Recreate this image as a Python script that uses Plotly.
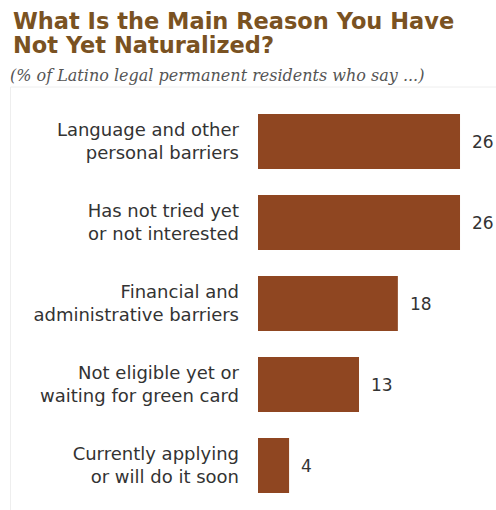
import plotly.graph_objects as go

categories = [
    "Language and other<br>personal barriers",
    "Has not tried yet<br>or not interested",
    "Financial and<br>administrative barriers",
    "Not eligible yet or<br>waiting for green card",
    "Currently applying<br>or will do it soon",
]
values = [26, 26, 18, 13, 4]
title_lines = ["What Is the Main Reason You Have", "Not Yet Naturalized?"]
subtitle = "(% of Latino legal permanent residents who say ...)"

W, H = 496, 510
L, R, T, B = 258, 6, 101, 4
PW, PH = W - L - R, H - T - B
xmax = PW / 7.77
PITCH = 81.0
ytop = -0.5
ybot = ytop + PH / PITCH


def px(x):
    return (x - L) / PW


def py(y):
    return 1 - (y - T) / PH


BAR = "#8f4621"
fig = go.Figure()
fig.add_trace(go.Bar(
    x=values, y=categories, orientation="h",
    marker=dict(color=BAR, line=dict(width=0)),
    width=0.68, hoverinfo="skip",
))

ann = []
for c, v in zip(categories, values):
    ann.append(dict(x=v, y=c, xref="x", yref="y", text=str(v),
                    showarrow=False, xanchor="left", xshift=10,
                    font=dict(family="DejaVu Sans", size=17, color="#333333")))

for line, yc in zip(title_lines, [21, 45]):
    ann.append(dict(text="<b>" + line + "</b>", xref="paper", yref="paper",
                    x=px(11), y=py(yc), xanchor="left", yanchor="middle",
                    showarrow=False,
                    font=dict(family="DejaVu Sans", size=22.5, color="#7a5222")))
ann.append(dict(text="<i>" + subtitle + "</i>", xref="paper", yref="paper",
                x=px(8), y=py(75), xanchor="left", yanchor="middle",
                showarrow=False,
                font=dict(family="DejaVu Serif", size=16, color="#555555")))

fig.update_layout(
    width=W, height=H,
    margin=dict(l=L, r=R, t=T, b=B, autoexpand=False),
    plot_bgcolor="white", paper_bgcolor="white",
    showlegend=False,
    xaxis=dict(range=[0, xmax], visible=False, fixedrange=True),
    yaxis=dict(range=[ybot, ytop], showgrid=False, zeroline=False, showline=False,
               ticks="", ticklabelstandoff=18, automargin=False, fixedrange=True,
               tickfont=dict(family="DejaVu Sans", size=18, color="#333333")),
    annotations=ann,
    shapes=[dict(type="line", xref="paper", yref="paper",
                 x0=px(10.5), x1=px(10.5), y0=py(510), y1=py(87),
                 line=dict(color="#eeeeee", width=1)),
            dict(type="line", xref="paper", yref="paper",
                 x0=px(10.5), x1=px(496), y0=py(87), y1=py(87),
                 line=dict(color="#eeeeee", width=1))],
)

fig.write_html(
    "out.html",
    config={"displayModeBar": False},
    post_script="document.body.style.margin='0';document.body.style.overflow='hidden';",
)
